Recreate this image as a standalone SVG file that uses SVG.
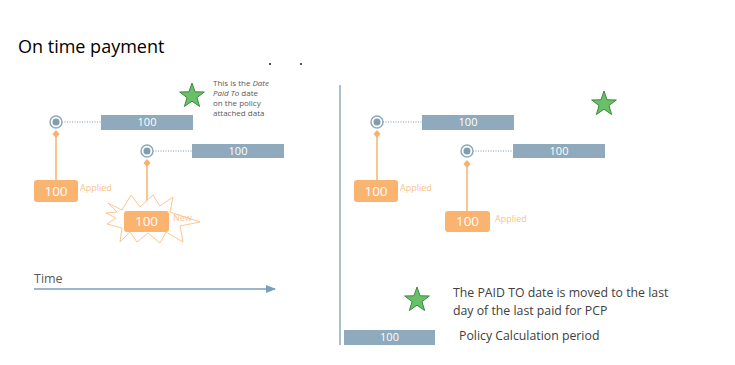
<svg xmlns="http://www.w3.org/2000/svg" xmlns:xlink="http://www.w3.org/1999/xlink" width="735" height="365" viewBox="0 0 735 365">
<style>
text{font-family:"Open Sans","DejaVu Sans",sans-serif}
.bar{fill:#8eaabc}
.bart{fill:#fff;font-size:11px;text-anchor:middle}
.ring{fill:#fff;stroke:#8eaabc;stroke-width:1.5}
.dot{fill:#7f9db3}
.dash{stroke:#7f9db3;stroke-width:1;stroke-dasharray:1 1.5;fill:none}
.ol{stroke:#f9b16f;stroke-width:1.5;fill:none}
.dia{fill:#f9b16f}
.box{fill:#fbb370}
.boxt{fill:#fff;font-size:13.5px;text-anchor:middle}
.lab{fill:#fbc28c;font-size:9px}
.note{fill:#595959;font-size:8px}
.leg{fill:#404040;font-size:12.3px}
.star{fill:#6abf69;stroke:#3d8b3d;stroke-width:1}
</style>
<defs>
<polygon id="star" points="0,-13 3.06,-4.21 12.36,-4.02 4.95,1.61 7.64,10.52 0,5.2 -7.64,10.52 -4.95,1.61 -12.36,-4.02 -3.06,-4.21"/>
<marker id="arr" markerWidth="10" markerHeight="8" refX="9" refY="4" orient="auto" markerUnits="userSpaceOnUse">
<path d="M0,0 L10,4 L0,8 Z" fill="#7aa0b8"/>
</marker>
</defs>

<text x="18" y="53" font-size="18" fill="#000">On time payment</text>
<rect x="269" y="63" width="2" height="2" fill="#555"/>
<rect x="300" y="63" width="2" height="2" fill="#555"/>

<g id="connectors">
<line class="dash" x1="62" y1="122" x2="101" y2="122"/>
<line class="dash" x1="153" y1="151" x2="192" y2="151"/>
<line class="dash" x1="383" y1="122" x2="422" y2="122"/>
<line class="dash" x1="473" y1="151" x2="513" y2="151"/>
<line class="ol" x1="56" y1="134" x2="56" y2="181"/>
<line class="ol" x1="147" y1="163" x2="147" y2="212"/>
<line class="ol" x1="377" y1="134" x2="377" y2="181"/>
<line class="ol" x1="467" y1="164" x2="467" y2="212"/>
<polygon class="dia" points="56,130 59.5,134 56,138 52.5,134"/>
<polygon class="dia" points="147,159 150.5,163 147,167 143.5,163"/>
<polygon class="dia" points="377,130 380.5,134 377,138 373.5,134"/>
<polygon class="dia" points="467,160 470.5,164 467,168 463.5,164"/>
<line x1="34" y1="289" x2="275" y2="289" stroke="#7aa0b8" stroke-width="1.5" marker-end="url(#arr)"/>
</g>

<line x1="340" y1="85" x2="340" y2="345" stroke="#8ea9bd" stroke-width="1.5"/>

<g id="star1"><use xlink:href="#star" class="star" x="192" y="96"/></g>
<g id="note1">
<text class="note" x="213" y="86">This is the <tspan font-style="italic">Date</tspan></text>
<text class="note" x="213" y="96"><tspan font-style="italic">Paid To</tspan>  date</text>
<text class="note" x="213" y="106">on the policy</text>
<text class="note" x="213" y="116">attached data</text>
</g>

<g id="c1"><circle class="ring" cx="56" cy="122" r="6"/><circle class="dot" cx="56" cy="122" r="3.5"/></g>
<g id="bar1"><rect class="bar" x="101" y="115" width="92" height="15"/><text class="bart" x="147" y="126">100</text></g>
<g id="c2"><circle class="ring" cx="147" cy="151" r="6"/><circle class="dot" cx="147" cy="151" r="3.5"/></g>
<g id="bar2"><rect class="bar" x="192" y="144" width="92" height="14"/><text class="bart" x="238" y="155">100</text></g>

<g id="box1"><rect class="box" x="34" y="180" width="44" height="22" rx="3"/><text class="boxt" x="56" y="196">100</text><text class="lab" x="80" y="191">Applied</text></g>

<g id="burst"><polygon points="108,203 122,210 131,195 140,207 153,195 160,206 173,197 170,212 200,222 180,226 183,242 166,232 160,243 148,233 137,242 130,232 120,242 122,228 107,224 116,218 106,213 117,212" fill="#fff" stroke="#fcc88f" stroke-width="1"/></g>
<g id="box2"><rect class="box" x="124" y="211" width="45" height="21" rx="3"/><text class="boxt" x="146.5" y="226">100</text><text class="lab" x="173" y="221">New</text></g>

<g id="time"><text x="34" y="283" font-size="12.5" fill="#595959">Time</text></g>

<g id="star2"><use xlink:href="#star" class="star" x="604" y="104"/></g>
<g id="c3"><circle class="ring" cx="377" cy="122" r="6"/><circle class="dot" cx="377" cy="122" r="3.5"/></g>
<g id="bar3"><rect class="bar" x="422" y="115" width="92" height="15"/><text class="bart" x="468" y="126">100</text></g>
<g id="c4"><circle class="ring" cx="467" cy="151" r="6"/><circle class="dot" cx="467" cy="151" r="3.5"/></g>
<g id="bar4"><rect class="bar" x="513" y="144" width="92" height="14"/><text class="bart" x="559" y="155">100</text></g>
<g id="box3"><rect class="box" x="354" y="180" width="44" height="22" rx="3"/><text class="boxt" x="376" y="196">100</text><text class="lab" x="400" y="191">Applied</text></g>
<g id="box4"><rect class="box" x="445" y="211" width="45" height="21" rx="3"/><text class="boxt" x="467.5" y="226">100</text><text class="lab" x="495" y="222">Applied</text></g>

<g id="legend-star"><use xlink:href="#star" class="star" x="417" y="300"/>
<text class="leg" x="453" y="297">The PAID TO date is moved to the last</text>
<text class="leg" x="453" y="314.5">day of the last paid for PCP</text></g>
<g id="legend-bar"><rect class="bar" x="344" y="330" width="91" height="15"/><text class="bart" x="389.5" y="341" font-size="10">100</text>
<text class="leg" x="459" y="340">Policy Calculation period</text></g>
</svg>
